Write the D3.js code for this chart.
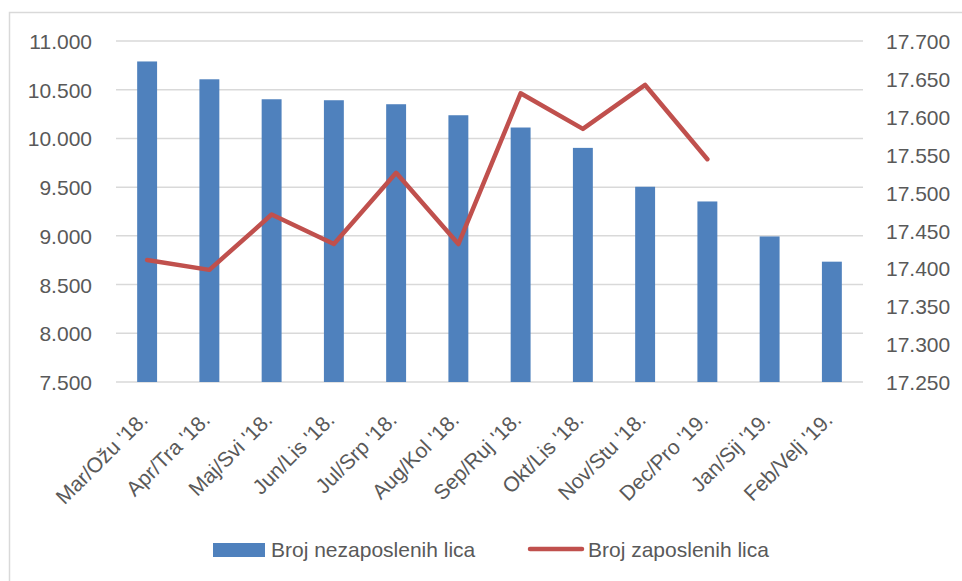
<!DOCTYPE html>
<html>
<head>
<meta charset="utf-8">
<script src="https://cdn.jsdelivr.net/npm/d3@7"></script>
<style>
  html, body { margin: 0; padding: 0; background: #fff; }
  svg { display: block; }
  text { font-family: "Liberation Sans", Arial, sans-serif; fill: #595959; }
</style>
</head>
<body>
<svg id="chart" width="962" height="581"></svg>
<script>
const categories = ["Mar/Ožu '18.", "Apr/Tra '18.", "Maj/Svi '18.", "Jun/Lis '18.", "Jul/Srp '18.", "Aug/Kol '18.", "Sep/Ruj '18.", "Okt/Lis '18.", "Nov/Stu '18.", "Dec/Pro '19.", "Jan/Sij '19.", "Feb/Velj '19."];
const unemployed = [10790, 10607, 10402, 10392, 10351, 10238, 10112, 9903, 9504, 9353, 8994, 8735];
const employed = [17411, 17398, 17471, 17432, 17526, 17432, 17631, 17584, 17642, 17544, null, null];
const leftTicks = [7500, 8000, 8500, 9000, 9500, 10000, 10500, 11000];
const rightTicks = [17250, 17300, 17350, 17400, 17450, 17500, 17550, 17600, 17650, 17700];
const seriesNames = ["Broj nezaposlenih lica", "Broj zaposlenih lica"];

const svg = d3.select("#chart");
const fmtThousands = v => String(Math.round(v)).replace(/\B(?=(\d{3})+(?!\d))/g, ".");

const plot = { left: 116, right: 863, top: 41, bottom: 382 };
const FONT = '"Liberation Sans", Arial, sans-serif';

// Chart area border
svg.append("rect")
  .attr("x", 9.5).attr("y", 12.5)
  .attr("width", 1200).attr("height", 1200)
  .attr("fill", "none").attr("stroke", "#D9D9D9").attr("stroke-width", 1.5);

const x = d3.scaleBand().domain(categories).range([plot.left, plot.right]).padding(0);
const yL = d3.scaleLinear().domain([7500, 11000]).range([plot.bottom, plot.top]);
const yR = d3.scaleLinear().domain([17250, 17700]).range([plot.bottom, plot.top]);

// gridlines
svg.append("g").selectAll("line").data(leftTicks).join("line")
  .attr("x1", plot.left).attr("x2", plot.right)
  .attr("y1", d => yL(d)).attr("y2", d => yL(d))
  .attr("stroke", "#D9D9D9").attr("stroke-width", 1.5);

// left axis labels
const leftAxis = d3.axisLeft(yL).tickValues(leftTicks).tickFormat(fmtThousands).tickSize(0).tickPadding(0);
const gL = svg.append("g").attr("transform", `translate(92,0)`).call(leftAxis);
gL.select(".domain").remove();
gL.selectAll("text").attr("font-size", 21).attr("fill", "#595959").attr("dy", "0.36em")
  .style("font-family", FONT);

// right axis labels
const rightAxis = d3.axisRight(yR).tickValues(rightTicks).tickFormat(fmtThousands).tickSize(0).tickPadding(0);
const gR = svg.append("g").attr("transform", `translate(886,0)`).call(rightAxis);
gR.select(".domain").remove();
gR.selectAll("text").attr("font-size", 21).attr("fill", "#595959").attr("dy", "0.36em")
  .style("font-family", FONT);

// bars
const barW = x.bandwidth() * 0.32;
svg.append("g").selectAll("rect").data(categories).join("rect")
  .attr("x", (d) => x(d) + x.bandwidth() / 2 - barW / 2)
  .attr("width", barW)
  .attr("y", (d, i) => yL(unemployed[i]))
  .attr("height", (d, i) => yL(7500) - yL(unemployed[i]))
  .attr("fill", "#4F81BD");

// line
const line = d3.line()
  .defined(d => d.v !== null)
  .x(d => x(d.c) + x.bandwidth() / 2)
  .y(d => yR(d.v));
svg.append("path")
  .datum(categories.map((c, i) => ({ c, v: employed[i] })))
  .attr("d", line)
  .attr("fill", "none").attr("stroke", "#C0504D").attr("stroke-width", 4.5)
  .attr("stroke-linejoin", "round").attr("stroke-linecap", "round");

// x labels
const xAxis = d3.axisBottom(x).tickSize(0).tickPadding(0);
const gX = svg.append("g").attr("transform", `translate(0,${plot.bottom})`).call(xAxis);
gX.select(".domain").remove();
gX.selectAll("text")
  .attr("font-size", 21).attr("fill", "#595959")
  .style("font-family", FONT)
  .attr("text-anchor", "end")
  .attr("dy", 0).attr("y", 0)
  .attr("transform", "translate(2,39) rotate(-45)");

// legend
const leg = svg.append("g");
leg.append("rect").attr("x", 213).attr("y", 543).attr("width", 52).attr("height", 14).attr("fill", "#4F81BD");
leg.append("text").attr("x", 271).attr("y", 557).attr("font-size", 21).text(seriesNames[0]);
leg.append("line").attr("x1", 530).attr("x2", 582).attr("y1", 549).attr("y2", 549)
  .attr("stroke", "#C0504D").attr("stroke-width", 4.5).attr("stroke-linecap", "round");
leg.append("text").attr("x", 588).attr("y", 557).attr("font-size", 21).text(seriesNames[1]);
</script>
</body>
</html>
